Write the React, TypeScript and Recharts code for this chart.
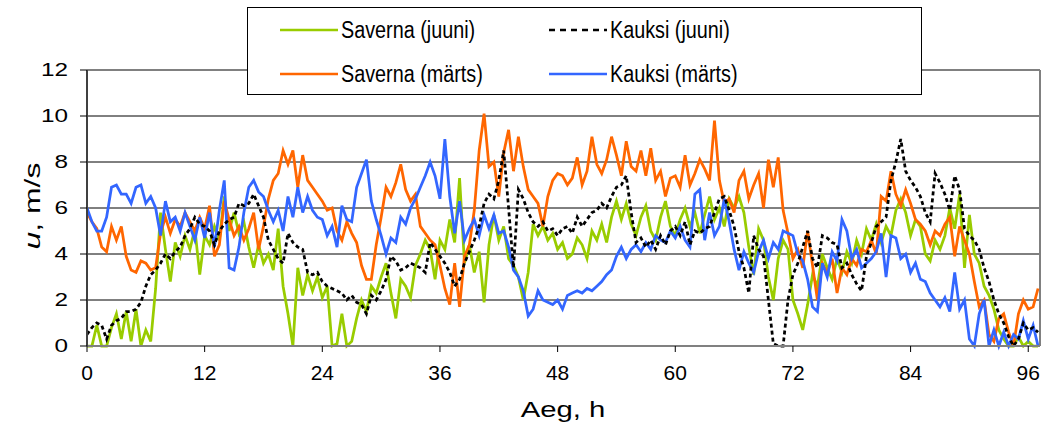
import React from "react";
import { CartesianGrid, Line, LineChart, ReferenceLine, XAxis, YAxis } from "recharts";

// tuulekiirus u (m/s), mõõdetud iga 0.5 h järel, 0 ... 97 h
const SAVERNA_JUUNI = [
  0, 0, 0.9, 0, 0, 0.8, 1.4, 0.3, 1.5, 0.2, 1.6, 0, 0.7, 0.2, 2.5, 5.8, 4.2, 2.8, 4.5, 3.9, 4.8, 4.2, 5.1, 3.1,
  4.8, 4.4, 5.2, 4.6, 6.5, 5.0, 5.8, 4.9, 5.4, 4.3, 3.4, 4.4, 3.6, 4.0, 3.3, 5.1, 2.6, 1.4, 0, 3.4, 2.2, 3.1, 2.4, 3.0,
  2.1, 2.6, 0, 0.1, 1.4, 0, 0.2, 1.2, 2.0, 1.5, 2.6, 2.3, 3.0, 3.6, 2.3, 1.2, 2.9, 2.6, 2.1, 3.5, 4.0, 4.6, 4.2, 2.9,
  4.6, 4.2, 5.5, 4.5, 7.3, 3.6, 4.4, 3.2, 4.1, 1.9, 4.4, 5.7, 4.6, 5.2, 3.8, 3.5, 3.0, 2.0, 3.2, 5.3, 4.8, 5.2, 4.6, 4.9,
  4.2, 4.5, 3.8, 4.0, 4.7, 4.4, 3.8, 5.0, 4.6, 5.3, 4.5, 5.6, 6.3, 5.5, 6.2, 5.3, 4.8, 5.6, 6.1, 5.0, 4.6, 5.6, 6.3, 5.2,
  4.8, 5.5, 6.0, 5.2, 5.8, 4.9, 5.7, 6.5, 5.5, 6.0, 5.2, 6.4, 6.0, 6.5, 5.8, 4.3, 3.1, 5.1, 4.6, 3.0, 2.0, 3.8, 4.6, 4.2,
  2.0, 1.4, 0.7, 1.8, 3.1, 2.6, 4.0, 3.4, 2.9, 3.8, 3.2, 4.1, 3.6, 4.6, 4.0, 5.1, 4.6, 5.3, 4.5, 5.2, 4.8, 5.9, 6.4, 5.8,
  4.8, 5.5, 5.2, 4.0, 3.7, 4.6, 4.2, 4.8, 6.0, 5.1, 6.6, 3.4, 5.7, 4.0, 3.6, 2.6, 2.2, 1.6, 0.7, 0.3, 0, 0, 0.4, 0,
  0.2, 0, 0,
];

const KAUKSI_JUUNI = [
  0.5, 0.8, 1.0, 0.9, 0.3, 0.9, 1.1, 1.2, 1.5, 1.5, 1.6, 1.9, 2.6, 3.1, 3.3, 3.6, 4.0, 3.8, 4.1, 4.3, 4.8, 5.1, 5.6, 5.3,
  5.2, 5.0, 4.4, 5.0, 5.3, 5.5, 5.6, 6.2, 6.1, 6.2, 6.6, 6.1, 5.6, 4.6, 4.2, 3.8, 3.6, 4.9, 4.5, 4.3, 4.2, 3.2, 3.1, 3.2,
  2.8, 2.6, 2.5, 2.4, 2.3, 2.0, 2.2, 1.9, 1.8, 1.4, 2.2, 2.0, 2.4, 2.9, 3.9, 3.7, 3.3, 3.4, 3.6, 3.5, 3.4, 3.2, 4.5, 4.2,
  3.9, 3.6, 3.2, 2.6, 2.9, 3.6, 4.1, 4.6, 5.2, 6.2, 6.6, 6.4, 7.2, 8.5, 6.0, 3.4, 6.8, 6.4, 5.8, 5.4, 5.2, 5.4, 5.0, 5.1,
  4.8, 5.1, 5.2, 4.9, 5.6, 5.2, 5.5, 5.8, 5.9, 6.2, 6.0, 6.5, 6.9, 7.0, 7.4, 5.8, 4.5, 4.7, 4.3, 4.6, 4.2, 4.8, 4.4, 5.0,
  5.2, 4.8, 5.4, 4.4, 5.0, 4.9, 5.1, 5.2, 5.8, 6.4, 6.5, 5.9, 5.2, 4.1, 3.4, 2.3, 4.8, 4.2, 3.9, 2.0, 0.1, 0, 0, 2.0,
  3.1, 3.6, 4.3, 5.0, 3.8, 3.4, 4.8, 4.7, 4.5, 4.4, 3.4, 3.6, 3.1, 2.7, 2.4, 3.9, 4.5, 5.2, 5.4, 5.6, 7.2, 8.0, 9.0, 7.6,
  7.2, 6.9, 6.5, 5.8, 5.4, 7.5, 7.1, 6.6, 5.9, 7.4, 6.8, 5.1, 4.8, 4.6, 4.2, 3.4, 2.8, 2.0, 1.4, 1.0, 0.4, 0, 0.3, 1.0,
  0.7, 0.8, 0.6,
];

const SAVERNA_MARTS = [
  5.8, 5.4, 5.1, 4.3, 4.1, 5.2, 4.6, 5.2, 3.9, 3.3, 3.2, 3.7, 3.6, 3.3, 3.4, 4.9, 5.6, 4.9, 5.5, 5.2, 5.8, 5.4, 5.0, 5.6,
  5.1, 6.1, 3.9, 4.4, 6.3, 5.5, 4.8, 5.2, 4.6, 5.1, 5.8, 4.2, 5.2, 6.4, 7.2, 7.5, 8.5, 7.9, 8.5, 6.9, 8.3, 7.2, 6.9, 6.6,
  6.3, 5.9, 6.0, 5.0, 4.6, 5.4, 4.9, 4.5, 3.5, 2.9, 2.9, 4.4, 5.6, 6.9, 6.5, 7.1, 7.9, 6.8, 6.3, 6.6, 5.2, 4.9, 4.6, 4.4,
  3.5, 2.5, 1.8, 3.6, 1.7, 3.9, 4.4, 5.9, 8.5, 10.1, 7.8, 8.0, 6.5, 8.4, 9.4, 7.6, 9.1, 7.8, 6.8, 6.5, 6.2, 5.2, 6.5, 7.2,
  7.5, 7.4, 7.0, 7.3, 8.2, 7.0, 7.6, 9.1, 7.9, 7.5, 8.1, 9.1, 8.3, 7.4, 8.9, 7.8, 7.6, 8.5, 7.4, 8.6, 7.2, 7.6, 6.5, 7.3,
  7.4, 6.9, 8.3, 7.0, 7.5, 8.1, 7.7, 7.2, 9.8, 7.2, 6.2, 6.4, 5.8, 7.2, 7.6, 6.4, 7.0, 7.5, 6.0, 8.1, 6.9, 8.2, 5.9, 4.9,
  3.8, 4.2, 3.4, 5.0, 3.5, 2.0, 3.6, 3.2, 3.8, 2.3, 3.4, 3.1, 3.8, 3.5, 4.2, 4.1, 4.6, 4.0, 6.5, 6.3, 7.6, 6.6, 6.1, 6.8,
  6.2, 5.5, 5.3, 5.0, 4.4, 5.0, 4.8, 5.3, 5.6, 3.9, 5.2, 4.6, 4.0, 2.8, 1.7, 2.0, 0.5, 0.2, 1.2, 1.4, 0.6, 0, 1.4, 2.0,
  1.6, 1.7, 2.5,
];

const KAUKSI_MARTS = [
  6.0, 5.4, 5.0, 5.0, 5.6, 6.9, 7.0, 6.6, 6.6, 6.2, 6.9, 7.0, 6.2, 6.5, 6.0, 4.8, 6.3, 5.4, 5.6, 5.0, 5.8, 5.2, 4.6, 5.6,
  4.7, 5.8, 4.3, 5.9, 7.2, 3.4, 3.3, 4.3, 5.8, 6.9, 7.2, 6.7, 6.5, 5.9, 5.4, 5.9, 5.0, 6.5, 5.6, 6.9, 5.8, 6.5, 5.9, 5.6,
  5.5, 4.8, 5.2, 4.3, 6.1, 5.5, 5.4, 6.9, 7.5, 8.1, 6.3, 5.5, 4.8, 4.0, 4.7, 4.5, 5.6, 5.3, 6.0, 6.4, 6.9, 7.4, 8.0, 7.4,
  6.4, 9.0, 6.5, 4.9, 6.3, 4.6, 5.1, 5.5, 4.8, 5.7, 5.1, 5.7, 4.9, 5.0, 4.3, 3.3, 3.0, 2.4, 1.3, 1.6, 2.4, 2.0, 1.9, 1.8,
  2.0, 1.6, 2.2, 2.3, 2.4, 2.3, 2.5, 2.4, 2.6, 2.8, 3.1, 3.3, 3.9, 4.3, 3.8, 4.2, 4.4, 4.1, 4.5, 4.2, 4.8, 4.6, 4.5, 5.0,
  4.7, 5.2, 4.6, 4.3, 6.6, 6.8, 4.6, 5.8, 4.8, 5.2, 6.4, 5.4, 4.2, 3.3, 4.1, 3.6, 3.2, 4.1, 4.6, 3.8, 4.5, 4.2, 5.0, 4.9,
  4.8, 4.0, 3.7, 2.9, 1.7, 1.5, 3.6, 3.0, 4.1, 3.7, 5.5, 5.0, 3.8, 4.2, 3.4, 3.6, 3.8, 4.1, 4.9, 3.0, 4.8, 4.7, 3.8, 4.0,
  3.2, 3.6, 2.9, 2.8, 2.3, 2.0, 1.7, 2.1, 1.5, 3.2, 1.6, 2.0, 0.3, 0, 1.4, 2.0, 0, 0.7, 0, 0.6, 0, 0.5, 0.3, 1.1,
  0.3, 0.9, 0,
];

const X_TICKS = [0, 12, 24, 36, 48, 60, 72, 84, 96];
const Y_TICKS = [0, 2, 4, 6, 8, 10, 12];

const SERIES = [
  { key: "savernaJuuni", name: "Saverna (juuni)", color: "#99CC00", dash: undefined, values: SAVERNA_JUUNI },
  { key: "savernaMarts", name: "Saverna (märts)", color: "#FF6600", dash: undefined, values: SAVERNA_MARTS },
  { key: "kauksiMarts", name: "Kauksi (märts)", color: "#3366FF", dash: undefined, values: KAUKSI_MARTS },
  { key: "kauksiJuuni", name: "Kauksi (juuni)", color: "#000000", dash: "4 3", values: KAUKSI_JUUNI },
];

// legend order as in the original (row by row)
const LEGEND_ORDER = ["savernaJuuni", "kauksiJuuni", "savernaMarts", "kauksiMarts"];

const FONT = "'Liberation Sans', Arial, sans-serif";

const data = SAVERNA_JUUNI.map((_, i) => {
  const row: { [key: string]: number } = { h: i * 0.5 };
  SERIES.forEach((s) => {
    row[s.key] = s.values[i];
  });
  return row;
});

// y tick labels are drawn wide in the original
function YTick(props: any) {
  const { x, y, payload } = props;
  return (
    <text
      x={x}
      y={y}
      dy="0.35em"
      textAnchor="end"
      fill="#000"
      fontSize={18}
      fontFamily={FONT}
      transform={`translate(${x},0) scale(1.35,1) translate(${-x},0)`}
    >
      {payload.value}
    </text>
  );
}

function LegendBox() {
  const cols = [32, 301];
  const rows = [22, 66];
  return (
    <div
      style={{
        position: "absolute",
        left: 247,
        top: 7,
        width: 673,
        height: 86,
        border: "1px solid #000",
        background: "#fff",
        fontFamily: FONT,
        fontSize: 23,
      }}
    >
      {LEGEND_ORDER.map((key, i) => {
        const s = SERIES.find((x) => x.key === key)!;
        const left = cols[i % 2];
        const top = rows[Math.floor(i / 2)];
        return (
          <div key={key} style={{ position: "absolute", left, top: top - 14, height: 28, display: "flex", alignItems: "center" }}>
            <svg width={58} height={6} style={{ marginRight: 3 }}>
              <line x1={0} y1={3} x2={58} y2={3} stroke={s.color} strokeWidth={2.5} strokeDasharray={s.dash ? "6 5" : undefined} />
            </svg>
            <span style={{ whiteSpace: "nowrap", display: "inline-block", transform: "scaleX(0.86)", transformOrigin: "left center" }}>
              {s.name}
            </span>
          </div>
        );
      })}
    </div>
  );
}

export default function App() {
  return (
    <div style={{ position: "absolute", left: 0, top: 0, width: 1044, height: 429, background: "#fff" }}>
      <LineChart width={1044} height={429} data={data} margin={{ top: 70, right: 4, bottom: 0, left: 0 }}>
        <CartesianGrid horizontal vertical={false} stroke="#000" strokeWidth={1} />
        <XAxis
          dataKey="h"
          type="number"
          domain={[0, 97.2]}
          ticks={X_TICKS}
          allowDataOverflow
          height={83}
          stroke="#808080"
          strokeWidth={2}
          tickSize={6}
          tickMargin={13}
          tickLine={{ stroke: "#000", strokeWidth: 1 }}
          tick={{ fill: "#000", fontSize: 21, fontFamily: FONT }}
        />
        <YAxis
          type="number"
          domain={[0, 12]}
          ticks={Y_TICKS}
          width={87}
          stroke="#404040"
          strokeWidth={2}
          tickSize={7}
          tickMargin={12}
          tickLine={{ stroke: "#000", strokeWidth: 1 }}
          tick={<YTick />}
        />
        <ReferenceLine y={12} stroke="#808080" strokeWidth={2} />
        <ReferenceLine x={97.2} stroke="#808080" strokeWidth={2} />
        {SERIES.map((s) => (
          <Line
            key={s.key}
            type="linear"
            dataKey={s.key}
            name={s.name}
            stroke={s.color}
            strokeWidth={2.75}
            strokeDasharray={s.dash}
            dot={false}
            activeDot={false}
            isAnimationActive={false}
          />
        ))}
      </LineChart>
      <LegendBox />
      <div
        style={{
          position: "absolute",
          left: 33,
          top: 206,
          transform: "translate(-50%, -50%) rotate(-90deg) scaleX(1.45)",
          whiteSpace: "nowrap",
          fontFamily: FONT,
          fontSize: 22,
        }}
      >
        <i>u</i>, m/s
      </div>
      <div
        style={{
          position: "absolute",
          left: 563,
          top: 410,
          transform: "translate(-50%, -50%) scaleX(1.33)",
          whiteSpace: "nowrap",
          fontFamily: FONT,
          fontSize: 22,
        }}
      >
        Aeg, h
      </div>
    </div>
  );
}
